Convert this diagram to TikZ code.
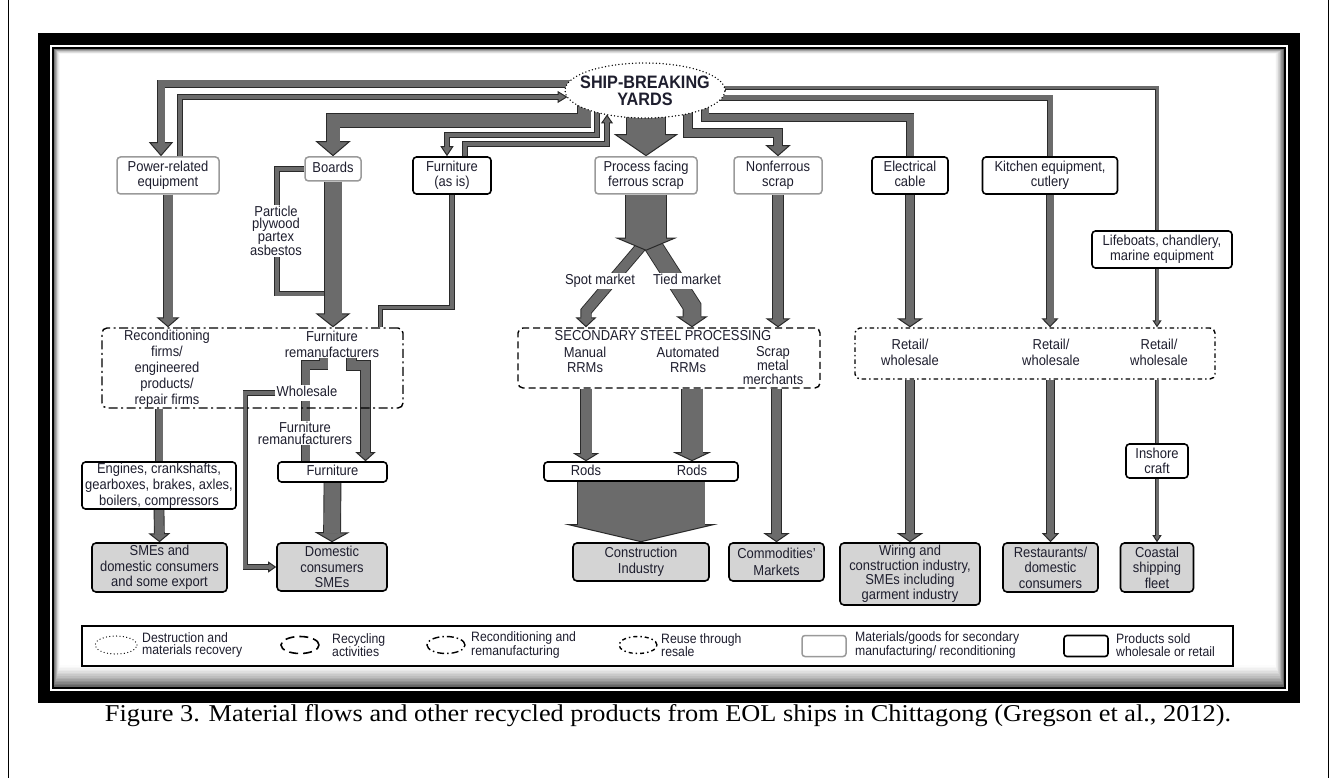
\documentclass[tikz,border=0pt]{standalone}
\usepackage{fontspec}
\usepackage{graphicx}
\setmainfont{Liberation Sans}[FakeStretch=0.9]
\newfontfamily\capfont{Liberation Serif}[FakeStretch=0.9]
\usetikzlibrary{shapes.geometric,arrows.meta,calc}
\pgfdeclarelayer{frame}
\pgfdeclarelayer{flows}
\pgfsetlayers{frame,flows,main}
\definecolor{flowgray}{HTML}{6B6B6B}
\definecolor{flowline}{HTML}{2A2A2A}
\definecolor{matgray}{HTML}{9A9A9A}
\definecolor{endgray}{HTML}{D4D4D4}
\definecolor{textc}{HTML}{1E1E2E}
% flow band with arrow head: #1 band width, #2 head width, #3 head length, #4 path
\newcommand\flowpath[4]{%
  \pgfmathsetmacro\flowouter{#1+1.8}%
  \pgfmathsetmacro\flowshort{#3-1.5}%
  \draw[line width=\flowouter pt, draw=flowline, line join=miter,
        -{Triangle[length=#3pt, width=#2pt, line width'=1pt, fill=flowgray]}] #4;
  \draw[line width=#1pt, draw=flowgray, line join=miter, shorten >=\flowshort pt] #4;
}
% flow band without head
\newcommand\flowline[2]{%
  \pgfmathsetmacro\flowouter{#1+1.8}%
  \draw[line width=\flowouter pt, draw=flowline, line join=miter] #2;
  \draw[line width=#1pt, draw=flowgray, line join=miter] #2;
}
\begin{document}
\begin{tikzpicture}[x=1pt,y=-1pt,
  txt/.style={font=\fontsize{14.4}{15.5}\selectfont, align=center, text=textc, inner sep=0pt},
  one/.style={text height=10.5pt, text depth=3pt},
  matbox/.style={txt, draw=matgray, line width=1.5pt, rounded corners=3.5pt, fill=white},
  prodbox/.style={txt, draw=black, line width=1.6pt, rounded corners=3.5pt, fill=white},
  endbox/.style={txt, draw=black, line width=1.6pt, rounded corners=4pt, fill=endgray},
  recbox/.style={draw=black, line width=1.4pt, rounded corners=5pt, inner sep=0pt, dash pattern=on 9pt off 3.5pt on 2pt off 3.5pt},
  cyclebox/.style={draw=black, line width=1.4pt, rounded corners=5pt, inner sep=0pt, dash pattern=on 7pt off 4pt},
  resalebox/.style={draw=black, line width=1.4pt, rounded corners=5pt, inner sep=0pt, dash pattern=on 4.5pt off 3pt on 1.5pt off 3pt},
  dotline/.style={draw=black, line width=1.5pt, line cap=round, dash pattern=on 0pt off 3.4pt},
  lbl/.style={txt, fill=white, inner sep=1.2pt},
  legtxt/.style={font=\fontsize{13.6}{12.3}\selectfont, align=left, text=textc, inner sep=0pt, anchor=west},
  legicon/.style={ellipse, draw=black, inner sep=0pt, minimum width=38pt, minimum height=17pt},
]
\useasboundingbox (0,0) rectangle (1336,778);

% ---------------- frame ----------------
\begin{pgfonlayer}{frame}
\fill[white] (0,0) rectangle (1336,778);
\draw[line width=1pt] (8,0) -- (8,778) (1328,0) -- (1328,778);
\fill[black] (38,33) rectangle (1300,703);
\fill[white] (50,45) rectangle (1288,691);
\fill[black] (52,47) rectangle (1286,689);
\foreach \i in {0,...,14} {
  \pgfmathsetmacro\t{\i/14}
  \pgfmathsetmacro\c{60*(1-\t)^1.5}
  \fill[black!\c] (54+6*\t,49+5*\t) rectangle (1284-9*\t,687-22*\t);
}
\end{pgfonlayer}

% ---------------- nodes ----------------
\node[ellipse, dotline, fill=white, minimum width=160pt, minimum height=55pt, inner sep=0pt] (yard) at (645,90.5) {};
\node[txt, font=\bfseries\fontsize{18}{17}\selectfont] (yardT) at (yard.center) {SHIP-BREAKING\\YARDS};

\node[matbox, minimum width=102pt, minimum height=37pt] (power) at (168,175.5) {Power-related\\equipment};
\node[matbox, one, minimum width=56pt, minimum height=24pt] (boards) at (333,169) {Boards};
\node[prodbox, minimum width=78pt, minimum height=37pt] (furnas) at (452,175.5) {Furniture\\(as is)};
\node[matbox, minimum width=102pt, minimum height=37pt] (process) at (646,175.5) {Process facing\\ferrous scrap};
\node[matbox, minimum width=88pt, minimum height=37pt] (nonf) at (778,175.5) {Nonferrous\\scrap};
\node[prodbox, minimum width=76pt, minimum height=37pt] (elec) at (910,175.5) {Electrical\\cable\vphantom{p}};
\node[prodbox, minimum width=135pt, minimum height=37pt] (kitchen) at (1050,175.5) {Kitchen equipment,\\cutlery};
\node[prodbox, minimum width=140pt, minimum height=37pt] (life) at (1162,249.5) {Lifeboats, chandlery,\\marine equipment};

\node[recbox, minimum width=301pt, minimum height=80pt] (recon) at (252.5,368) {};
\node[cyclebox, minimum width=302pt, minimum height=60pt] (steel) at (669,358) {};
\node[resalebox, minimum width=360pt, minimum height=51pt] (retail) at (1035,353.5) {};

\node[txt, font=\fontsize{14.4}{16}\selectfont] (recT) at (167,368.5) {Reconditioning\\firms/\\engineered\\products/\\repair firms};
\node[txt, font=\fontsize{14.4}{16}\selectfont] (reman) at (332,344) {Furniture\\remanufacturers};
\node[txt, one] (steelT) at (663,337) {SECONDARY STEEL PROCESSING};
\node[txt, font=\fontsize{14.4}{15}\selectfont] (manual) at (585,360) {Manual\\RRMs};
\node[txt, font=\fontsize{14.4}{15}\selectfont] (auto) at (688,360) {Automated\\RRMs};
\node[txt, font=\fontsize{14.4}{14}\selectfont] (scrap) at (773,366) {Scrap\\metal\\merchants};
\node[txt, font=\fontsize{14.4}{16}\selectfont] (rt1) at (910,352) {Retail/\\wholesale};
\node[txt, font=\fontsize{14.4}{16}\selectfont] (rt2) at (1051,352) {Retail/\\wholesale};
\node[txt, font=\fontsize{14.4}{16}\selectfont] (rt3) at (1159,352) {Retail/\\wholesale};

\node[lbl, font=\fontsize{14.4}{11.7}\selectfont] (particle) at (276,231) {Particle\\plywood\\partex\\asbestos};
\node[lbl, one] (spot) at (600,281) {Spot market};
\node[lbl, one] (tied) at (687,281) {Tied market};
\node[lbl, one] (wholeT) at (307,393) {Wholesale};
\node[lbl, font=\fontsize{14.4}{12}\selectfont] (fremT) at (305,433) {Furniture\\remanufacturers};

\node[prodbox, minimum width=154pt, minimum height=47pt, font=\fontsize{14.4}{16}\selectfont] (engines) at (159,485.5) {Engines, crankshafts,\\gearboxes, brakes, axles,\\boilers, compressors};
\node[prodbox, one, minimum width=109pt, minimum height=20pt] (furn) at (332.5,472) {Furniture};
\node[prodbox, minimum width=194pt, minimum height=19pt] (rods) at (641,471.5) {};
\node[txt, one] (rodA) at (586,471.5) {Rods};
\node[txt, one] (rodB) at (692,471.5) {Rods};
\node[prodbox, minimum width=62pt, minimum height=34pt] (inshore) at (1157,461) {Inshore\\craft};

\node[endbox, minimum width=135pt, minimum height=49pt] (smes) at (159.5,567.5) {SMEs and\\domestic consumers\\and some export};
\node[endbox, minimum width=110pt, minimum height=48pt] (dom) at (332,567) {Domestic\\consumers\\SMEs};
\node[endbox, minimum width=136pt, minimum height=38pt, font=\fontsize{14.4}{16.5}\selectfont] (constr) at (641,562) {Construction\\Industry};
\node[endbox, minimum width=95pt, minimum height=38pt, font=\fontsize{14.4}{16.5}\selectfont] (commod) at (776.5,562) {Commodities'\\Markets};
\node[endbox, minimum width=140pt, minimum height=62pt, font=\fontsize{14.4}{14.5}\selectfont] (wiring) at (910,574) {Wiring and\\construction industry,\\SMEs including\\garment industry};
\node[endbox, minimum width=95pt, minimum height=49pt] (rest) at (1050.5,567.5) {Restaurants/\\domestic\\consumers};
\node[endbox, minimum width=73pt, minimum height=49pt] (coastal) at (1157,567.5) {Coastal\\shipping\\fleet};

% ---------------- legend ----------------
\node[draw=black, line width=1.6pt, minimum width=1151pt, minimum height=40pt, inner sep=0pt] (legend) at (657.5,646) {};
\node[ellipse, dotline, line width=1.3pt, inner sep=0pt, minimum width=42pt, minimum height=18pt] (lg1) at (116,645) {};
\node[legicon, line width=1.6pt, dash pattern=on 9pt off 5pt] (lg2) at (300,645) {};
\node[legicon, line width=1.4pt, dash pattern=on 7pt off 3pt on 1.5pt off 3pt] (lg3) at (446,645) {};
\node[legicon, line width=1.4pt, dash pattern=on 4pt off 3pt on 1.5pt off 3pt] (lg4) at (638,645) {};
\node[draw=matgray, line width=1.5pt, rounded corners=3pt, minimum width=44pt, minimum height=21pt, inner sep=0pt] (lg5) at (824,646) {};
\node[draw=black, line width=1.6pt, rounded corners=3pt, minimum width=44pt, minimum height=21pt, inner sep=0pt] (lg6) at (1086,646) {};
\node[legtxt] (lt1) at (142,645) {Destruction and\\materials recovery};
\node[legtxt] (lt2) at (332,645) {Recycling\\activities};
\node[legtxt] (lt3) at (471,645) {Reconditioning and\\remanufacturing};
\node[legtxt] (lt4) at (661,645) {Reuse through\\resale};
\node[legtxt] (lt5) at (855,645) {Materials/goods for secondary\\manufacturing/ reconditioning};
\node[legtxt] (lt6) at (1116,645) {Products sold\\wholesale or retail};

% ---------------- caption ----------------
\node[inner sep=0pt] (cap) at (668,716) {\resizebox{1126pt}{17pt}{\capfont\fontsize{20}{20}\selectfont Figure 3. Material flows and other recycled products from EOL ships in Chittagong (Gregson et al., 2012).}};

% ---------------- flows ----------------
\begin{pgfonlayer}{flows}
% from / to ship-breaking yards (left side)
\flowpath{7}{24}{14}{($(yard.center)+(-70,-6.5)$) -| ($(power.north)+(-7,0)$)}
\flowpath{4}{12}{10}{($(power.north)+(12,0)$) |- ($(yard.center)+(-77.5,6.5)$)}
\flowpath{13}{35}{15}{($(yard.center)+(-61,12)$) |- ($(boards.north)+(0,-36)$) -- (boards.north)}
\flowpath{4}{13}{10}{($(yard.center)+(-48,20)$) |- ($(furnas.north)+(-5,-21)$) -- ($(furnas.north)+(-5,0)$)}
\flowpath{4}{12}{9}{($(furnas.north)+(13,0)$) |- ($(yard.center)+(-38,53.5)$) -- ($(yard.center)+(-38,24)$)}
% right side
\flowpath{8}{25}{11}{($(yard.center)+(43,12)$) |- ($(nonf.north)+(0,-23)$) -- (nonf.north)}
\flowline{7}{($(yard.center)+(60,10)$) |- ($(elec.north)+(0,-39)$) -- (elec.north)}
\flowline{5}{($(yard.center)+(70,7.5)$) -| (kitchen.north)}
\flowline{3}{($(yard.center)+(70,-2.5)$) -| (inshore.north |- life.north)}
% top boxes down
\flowpath{9}{23}{10}{(power.south) -- (power.south |- recon.north)}
\flowline{3.5}{(boards.west) -| ($(boards.south)+(-56,112)$) -- ($(boards.south)+(0,112)$)}
\flowpath{17}{35}{14}{(boards.south) -- (boards.south |- recon.north)}
\flowline{3.5}{(furnas.south) |- ($(recon.north east)+(-23,-20)$) -- ($(recon.north east)+(-23,0)$)}
% ferrous split
\flowpath{9.5}{21}{10}{($(process.south)+(0,46)$) -- ($(rodA |- steel.north)+(0,-16)$) -- (rodA |- steel.north)}
\flowpath{17}{32}{11}{($(process.south)+(4,46)$) -- ($(rodB |- steel.north)+(0,-21)$) -- (rodB |- steel.north)}
\flowpath{40}{62}{13}{(process.south) -- ++(0,56)}
\flowpath{38}{64}{22}{(process.north |- yard.center) -- (process.north)}
\flowpath{10}{25}{9}{(nonf.south) -- (nonf.south |- steel.north)}
\flowpath{8}{26}{9}{(elec.south) -- (elec.south |- retail.north)}
\flowpath{7}{17}{9}{(kitchen.south) -- (kitchen.south |- retail.north)}
\flowpath{3}{9}{7}{(inshore.north |- life.south) -- (inshore.north |- retail.north)}
% lower part, left
\flowline{7}{(engines.north |- recon.south) -- (engines.north)}
\flowpath{9}{22}{9}{(engines.south) -- (smes.north)}
\flowline{8}{($(furn.north)+(-9,-103)$) |- ($(furn.north)+(-27,-96)$) -- ($(furn.north)+(-27,0)$)}
\flowpath{9}{20}{9}{($(furn.north)+(19,-103)$) |- ($(furn.north)+(33,-96)$) -- ($(furn.north)+(33,0)$)}
\flowpath{3.5}{11}{8}{(wholeT.west) -| ($(dom.west)+(-31,0)$) -- (dom.west)}
\flowpath{16}{35}{10}{(furn.south) -- (dom.north)}
% steel
\flowpath{11}{26}{8}{(rodA |- steel.south) -- (rodA |- rods.north)}
\flowpath{21}{38}{9}{(rodB |- steel.south) -- (rodB |- rods.north)}
\flowpath{127}{153}{18}{(rods.south) -- (constr.north)}
\flowpath{9}{26}{9}{(commod.north |- steel.south) -- (commod.north)}
% retail
\flowpath{8}{26}{9}{(wiring.north |- retail.south) -- (wiring.north)}
\flowpath{7}{17}{9}{(rest.north |- retail.south) -- (rest.north)}
\flowline{3}{(inshore.north |- retail.south) -- (inshore.north)}
\flowpath{3}{9}{7}{(inshore.south) -- (coastal.north)}
\end{pgfonlayer}
\end{tikzpicture}
\end{document}
